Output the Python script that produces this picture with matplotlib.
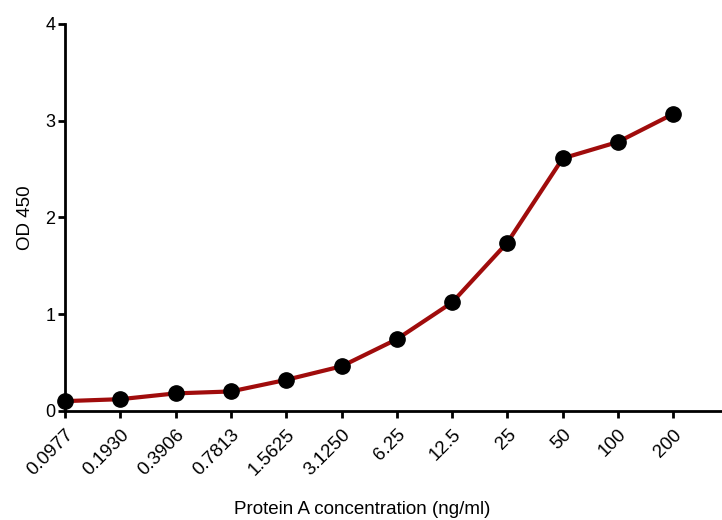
import matplotlib
matplotlib.use("Agg")
import matplotlib.pyplot as plt

concentrations = ["0.0977", "0.1930", "0.3906", "0.7813", "1.5625", "3.1250",
                  "6.25", "12.5", "25", "50", "100", "200"]
od450 = [0.10, 0.12, 0.18, 0.20, 0.32, 0.46, 0.74, 1.12, 1.74, 2.61, 2.78, 3.07]
y_ticks = [0, 1, 2, 3, 4]

plt.rcParams['font.family'] = ['Liberation Sans', 'DejaVu Sans']

fig = plt.figure(figsize=(7.22, 5.2), dpi=100)
ax = fig.add_axes([0.09, 0.21, 0.91, 0.744])

x = list(range(len(concentrations)))
ax.plot(x, od450, color="#a00c0c", linewidth=3.0, marker="o", markersize=11,
        markerfacecolor="black", markeredgecolor="black", zorder=3, clip_on=False)

ax.set_xlim(0, 11.88)
ax.set_ylim(0, 4)
ax.set_xticks(x)
ax.set_xticklabels(concentrations, rotation=45, ha="right", rotation_mode="anchor")
ax.set_yticks(y_ticks)
ax.set_yticklabels([str(v) for v in y_ticks])

for s in ["top", "right"]:
    ax.spines[s].set_visible(False)
for s in ["left", "bottom"]:
    ax.spines[s].set_linewidth(2.0)

ax.tick_params(axis="both", direction="out", width=2.0, length=5, labelsize=13, pad=2)
ax.tick_params(axis="x", labelsize=13.5, pad=6)

ax.set_ylabel("OD 450", fontsize=13.5, labelpad=8)
fig.text(362 / 722, 1 - 510 / 520, "Protein A concentration (ng/ml)", fontsize=13.5,
         ha="center", va="center")

fig.savefig("out.png", dpi=100)
